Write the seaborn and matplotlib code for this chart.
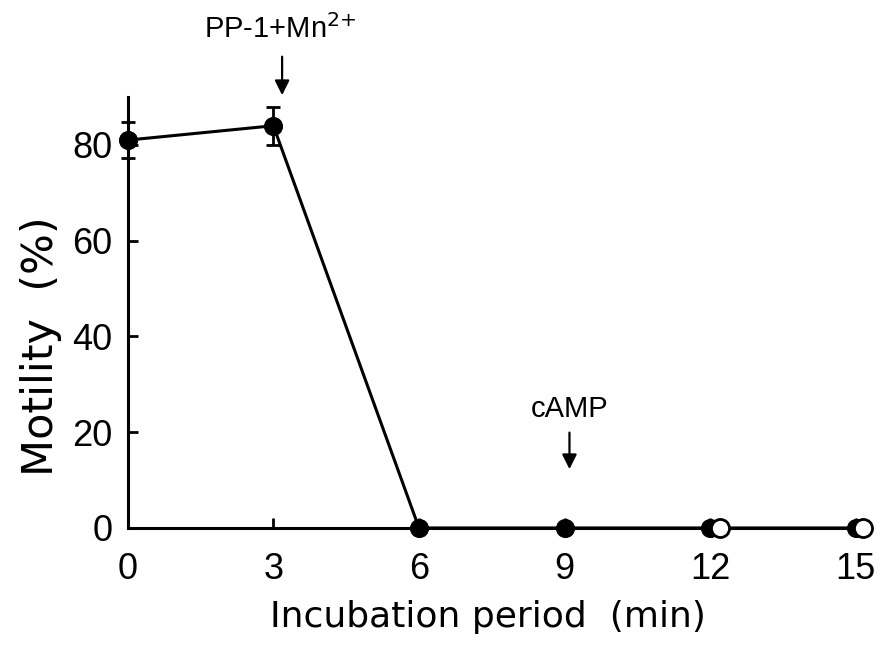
import matplotlib
matplotlib.use("Agg")
import matplotlib.pyplot as plt
import seaborn as sns
import pandas as pd

# Datos
tiempo = [0, 3, 6, 9, 12, 15]
motilidad = [81, 84, 0, 0, 0, 0]
error = [3.7, 4.0, 0, 0, 0, 0]

tiempo_abierto = [12.2, 15.15]
motilidad_abierta = [0, 0]

xticks = [0, 3, 6, 9, 12, 15]
yticks = [0, 20, 40, 60, 80]

sns.set_style("ticks")
plt.rcParams['font.family'] = ['Liberation Sans', 'DejaVu Sans']
plt.rcParams['text.color'] = 'black'
plt.rcParams['axes.labelcolor'] = 'black'
plt.rcParams['xtick.color'] = 'black'
plt.rcParams['ytick.color'] = 'black'

df = pd.DataFrame({'tiempo': tiempo, 'motilidad': motilidad, 'error': error})

fig = plt.figure(figsize=(8.81, 6.51), dpi=100)
ax = fig.add_axes([0.145, 0.189, 0.843, 0.662])

ax.errorbar(df['tiempo'], df['motilidad'], yerr=df['error'], fmt='none',
            ecolor='black', elinewidth=2, capsize=5, capthick=2,
            clip_on=False, zorder=3)
sns.lineplot(data=df, x='tiempo', y='motilidad', ax=ax, color='black',
             linewidth=2.2, marker='o', markersize=13,
             markerfacecolor='black', markeredgecolor='black',
             clip_on=False, zorder=4)
ax.plot(tiempo_abierto, motilidad_abierta, linestyle='none', marker='o',
        markersize=13, markerfacecolor='white', markeredgecolor='black',
        markeredgewidth=2, clip_on=False, zorder=5)

ax.set_xlim(0, 15.3)
ax.set_ylim(0, 90)
ax.set_xticks(xticks)
ax.set_yticks(yticks)
ax.tick_params(axis='both', direction='in', length=7, width=2,
               labelsize=26)
ax.tick_params(axis='x', pad=17)
ax.tick_params(axis='y', pad=11)

sns.despine(ax=ax)
for s in ['left', 'bottom']:
    ax.spines[s].set_linewidth(2.2)
    ax.spines[s].set_color('black')

# Los títulos de ejes usan una fuente más ancha
ax.set_xlabel('Incubation period  (min)', fontsize=26, family='DejaVu Sans')
ax.set_ylabel('Motility  (%)', fontsize=31, family='DejaVu Sans')
ax.xaxis.set_label_coords(0.485, -0.168)
ax.yaxis.set_label_coords(-0.088, 0.422)

# Flechas de anotación
ax.annotate('', xy=(3.18, 89.8), xytext=(3.18, 99),
            arrowprops=dict(arrowstyle='-|>', color='black', lw=1.6,
                            mutation_scale=22),
            annotation_clip=False)
ax.text(3.13, 101, 'PP-1+Mn$^{2{+}}$', fontsize=21, ha='center', va='bottom',
        clip_on=False)

ax.annotate('', xy=(9.1, 11.7), xytext=(9.1, 20.5),
            arrowprops=dict(arrowstyle='-|>', color='black', lw=1.6,
                            mutation_scale=22))
ax.text(9.1, 22, 'cAMP', fontsize=21, ha='center', va='bottom')

fig.savefig('out.png', dpi=100, facecolor='white')
plt.close(fig)
